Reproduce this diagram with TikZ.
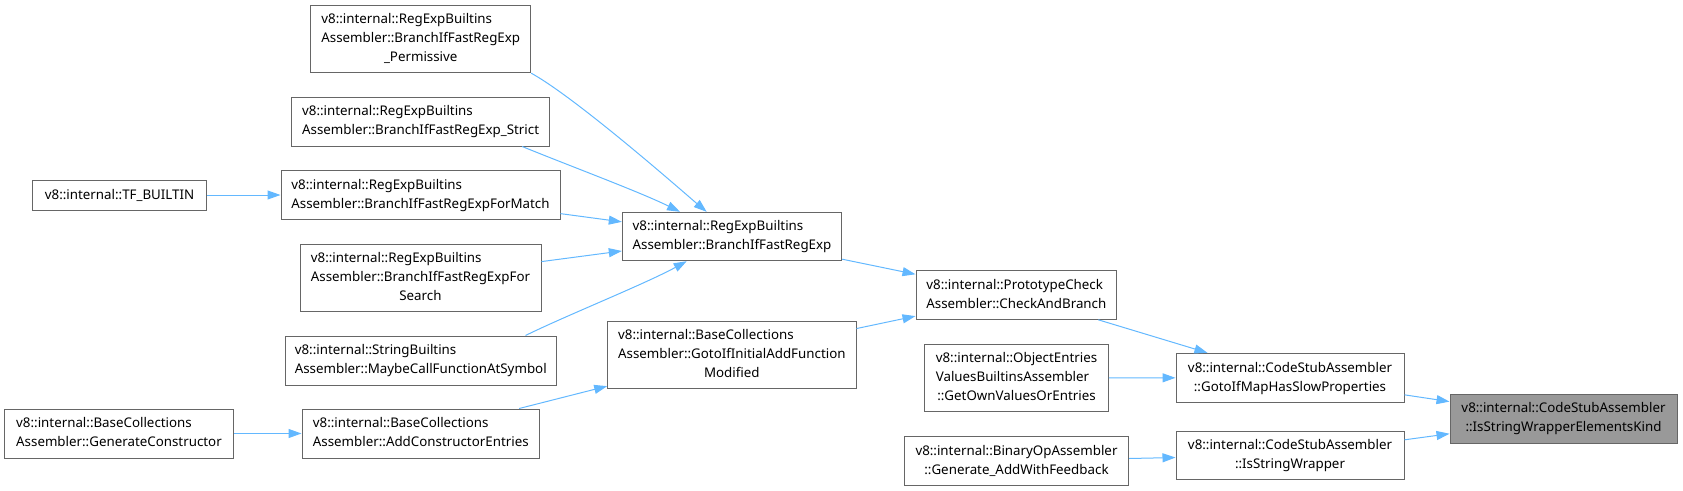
\documentclass[tikz,border=0pt]{standalone}
\usepackage{fontspec}
\setmainfont{Noto Sans}
\usetikzlibrary{arrows.meta,calc}
\definecolor{edgeblue}{HTML}{63B8FF}
\definecolor{boxgray}{HTML}{666666}
\definecolor{targetfill}{HTML}{999999}
\newcommand{\cl}[1]{\multicolumn{1}{@{}c@{}}{#1}}
\newcommand{\lbl}[1]{\begin{tabular}{@{}l@{}}#1\end{tabular}}
\begin{document}
\begin{tikzpicture}[x=1pt,y=-1pt,
  fn/.style={draw=boxgray, line width=1pt, fill=white, inner sep=0pt, font=\fontsize{13.33}{19}\selectfont},
  tgt/.style={fn, fill=targetfill},
  edge/.style={draw=edgeblue, line width=1pt, -{Triangle[length=13pt,width=9pt]}}]
\useasboundingbox (0,0) rectangle (1683,490);
\node[fn, minimum width=220pt, minimum height=67.7pt] (perm) at (420.75,38.85)
  {\lbl{v8::internal::RegExpBuiltins\\Assembler::BranchIfFastRegExp\\\cl{\_Permissive}}};
\node[fn, minimum width=257.3pt, minimum height=49pt] (strict) at (420.6,121.5)
  {\lbl{v8::internal::RegExpBuiltins\\\cl{Assembler::BranchIfFastRegExp\_Strict}}};
\node[fn, minimum width=279pt, minimum height=48.6pt] (formatch) at (420.5,195)
  {\lbl{v8::internal::RegExpBuiltins\\\cl{Assembler::BranchIfFastRegExpForMatch}}};
\node[fn, minimum width=174.2pt, minimum height=30pt] (tfb) at (119.6,195)
  {v8::internal::TF\_BUILTIN};
\node[fn, minimum width=241pt, minimum height=67pt] (forsearch) at (420.5,277.5)
  {\lbl{v8::internal::RegExpBuiltins\\Assembler::BranchIfFastRegExpFor\\\cl{Search}}};
\node[fn, minimum width=270.5pt, minimum height=49pt] (maybecall) at (420.75,360.5)
  {\lbl{v8::internal::StringBuiltins\\\cl{Assembler::MaybeCallFunctionAtSymbol}}};
\node[fn, minimum width=229pt, minimum height=49pt] (gencons) at (119,433.5)
  {\lbl{v8::internal::BaseCollections\\\cl{Assembler::GenerateConstructor}}};
\node[fn, minimum width=237.6pt, minimum height=49pt] (addcons) at (420.8,433.5)
  {\lbl{v8::internal::BaseCollections\\\cl{Assembler::AddConstructorEntries}}};
\node[fn, minimum width=219.4pt, minimum height=48.4pt] (branch) at (732,236.5)
  {\lbl{v8::internal::RegExpBuiltins\\\cl{Assembler::BranchIfFastRegExp}}};
\node[fn, minimum width=248.3pt, minimum height=67.3pt] (gotoinit) at (731.85,354.65)
  {\lbl{v8::internal::BaseCollections\\Assembler::GotoIfInitialAddFunction\\\cl{Modified}}};
\node[fn, minimum width=200.7pt, minimum height=48.6pt] (proto) at (1016.35,295)
  {\lbl{v8::internal::PrototypeCheck\\\cl{Assembler::CheckAndBranch}}};
\node[fn, minimum width=183.6pt, minimum height=67.7pt] (objentries) at (1016.5,377.85)
  {\lbl{v8::internal::ObjectEntries\\ValuesBuiltinsAssembler\\\cl{::GetOwnValuesOrEntries}}};
\node[fn, minimum width=224.4pt, minimum height=48.3pt] (binop) at (1016.5,460.85)
  {\lbl{v8::internal::BinaryOpAssembler\\\cl{::Generate\_AddWithFeedback}}};
\node[fn, minimum width=228pt, minimum height=49pt] (gotoifmap) at (1290,377.8)
  {\lbl{v8::internal::CodeStubAssembler\\\cl{::GotoIfMapHasSlowProperties}}};
\node[fn, minimum width=228pt, minimum height=48.3pt] (isstrwrap) at (1290,455.15)
  {\lbl{v8::internal::CodeStubAssembler\\\cl{::IsStringWrapper}}};
\node[tgt, minimum width=227pt, minimum height=49pt] (target) at (1563.5,418.5)
  {\lbl{v8::internal::CodeStubAssembler\\\cl{::IsStringWrapperElementsKind}}};

\draw[edge] (tfb) -- (formatch);
\draw[edge] (perm.south east) .. controls (578,99) and (689,197) .. ($(branch.north)+(-25.3,0)$);
\draw[edge] ($(strict.south east)+(-27.6,0)$) .. controls (570,166) and (640,192) .. ($(branch.north)+(-52,0)$);
\draw[edge] (formatch) -- (branch);
\draw[edge] (forsearch) -- (branch);
\draw[edge] ($(maybecall.north east)+(-31,0)$) .. controls (565,316) and (645,284) .. ($(branch.south)+(-45.3,0)$);
\draw[edge] (gencons) -- (addcons);
\draw[edge] (addcons) -- (gotoinit);
\draw[edge] (branch) -- (proto);
\draw[edge] (gotoinit) -- (proto);
\draw[edge] (proto) -- (gotoifmap);
\draw[edge] (objentries) -- (gotoifmap);
\draw[edge] (binop) -- (isstrwrap);
\draw[edge] (gotoifmap) -- (target);
\draw[edge] (isstrwrap) -- (target);
\end{tikzpicture}
\end{document}
